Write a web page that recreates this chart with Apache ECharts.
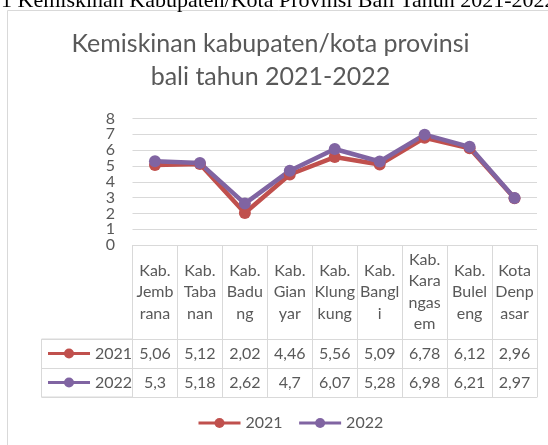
<!DOCTYPE html>
<html><head><meta charset="utf-8">
<script src="https://cdn.jsdelivr.net/npm/echarts@6/dist/echarts.min.js"></script>
<style>html,body{margin:0;padding:0;background:#fff}#c{width:548px;height:445px}</style>
</head><body><div id="c"></div>
<script>
const categories = ['Kab. Jembrana','Kab. Tabanan','Kab. Badung','Kab. Gianyar','Kab. Klungkung','Kab. Bangli','Kab. Karangasem','Kab. Buleleng','Kota Denpasar'];
const categoryLabels = ['Kab.\nJemb\nrana','Kab.\nTaba\nnan','Kab.\nBadu\nng','Kab.\nGian\nyar','Kab.\nKlung\nkung','Kab.\nBangl\ni','Kab.\nKara\nngas\nem','Kab.\nBulel\neng','Kota\nDenp\nasar'];
const seriesNames = ['2021','2022'];
const values2021 = [5.06,5.12,2.02,4.46,5.56,5.09,6.78,6.12,2.96];
const values2022 = [5.3,5.18,2.62,4.7,6.07,5.28,6.98,6.21,2.97];
const yTicks = [0,1,2,3,4,5,6,7,8];
const titleText = 'Kemiskinan kabupaten/kota provinsi\nbali tahun 2021-2022';
const captionText = '1 Kemiskinan Kabupaten/Kota Provinsi Bali Tahun 2021-2022';

const F = 'Lato';
const TXT = '#595959';
const LINE = '#d9d9d9';
const fmt = v => String(v).replace('.', ',');
const lbl = extra => Object.assign({fontFamily:F, fontSize:16, color:TXT}, extra || {});

const chart = echarts.init(document.getElementById('c'), null, {renderer:'canvas'});
const option = {
  animation:false,
  color:['#C0504D','#8064A2'],
  graphic:[{type:'rect', silent:true, z:-10, shape:{x:7.5,y:10.5,width:600,height:500}, style:{fill:'none', stroke:LINE, lineWidth:1}}],
  title:[
    {text:titleText, left:265.5, top:22, textAlign:'center', textStyle:{fontFamily:F,fontSize:25,fontWeight:'normal',color:TXT,lineHeight:33}},
    {text:captionText, left:-4, top:-15, textStyle:{fontFamily:'Liberation Serif',fontSize:22,fontWeight:'normal',color:'#000'}}
  ],
  grid:[
    {left:132.5, right:11, top:118.5, bottom:200},
    {left:41.5, width:91, top:339, height:58, show:true, borderColor:LINE, borderWidth:1, backgroundColor:'transparent'}
  ],
  legend:[
    {data:seriesNames, left:192, top:408, itemWidth:42, itemHeight:12.5, itemGap:15, lineStyle:{width:3}, textStyle:lbl({lineHeight:20})},
    {data:seriesNames, orient:'vertical', left:41.5, top:338.5, itemWidth:42, itemHeight:12.5, itemGap:9, lineStyle:{width:3}, textStyle:lbl({lineHeight:20})}
  ],
  xAxis:[
    {gridIndex:0, type:'category', data:categories, boundaryGap:true,
      axisLine:{lineStyle:{color:LINE}}, axisTick:{show:true, length:152, lineStyle:{color:LINE}},
      axisLabel:lbl({formatter:(v,i)=>categoryLabels[i], interval:0, margin:47, verticalAlign:'middle', lineHeight:21.5})},
    {gridIndex:0, type:'category', data:categories, position:'bottom', offset:94,
      axisLine:{lineStyle:{color:LINE}}, axisTick:{show:false},
      axisLabel:lbl({formatter:(v,i)=>fmt(values2021[i]), interval:0, margin:14.5, verticalAlign:'middle'})},
    {gridIndex:0, type:'category', data:categories, position:'bottom', offset:123,
      axisLine:{lineStyle:{color:LINE}}, axisTick:{show:false},
      axisLabel:lbl({formatter:(v,i)=>fmt(values2022[i]), interval:0, margin:14.5, verticalAlign:'middle'})},
    {gridIndex:0, type:'category', data:categories, position:'bottom', offset:152,
      axisLine:{lineStyle:{color:LINE}}, axisTick:{show:false}, axisLabel:{show:false}},
    {gridIndex:1, type:'value', show:false}
  ],
  yAxis:[
    {gridIndex:0, type:'value', min:yTicks[0], max:yTicks[yTicks.length-1], interval:yTicks[1]-yTicks[0],
      axisLine:{show:false}, axisTick:{show:false}, splitLine:{lineStyle:{color:LINE, width:1}},
      axisLabel:lbl({margin:17.5})},
    {gridIndex:1, type:'category', data:seriesNames, axisLine:{show:false}, axisTick:{show:false}, axisLabel:{show:false},
      splitLine:{show:true, lineStyle:{color:LINE}}}
  ],
  series:[
    {name:seriesNames[0], type:'line', data:values2021, xAxisIndex:0, yAxisIndex:0, symbol:'circle', symbolSize:12, lineStyle:{width:4.5}},
    {name:seriesNames[1], type:'line', data:values2022, xAxisIndex:0, yAxisIndex:0, symbol:'circle', symbolSize:12, lineStyle:{width:4.5}}
  ]
};
chart.setOption(option);
</script></body></html>
